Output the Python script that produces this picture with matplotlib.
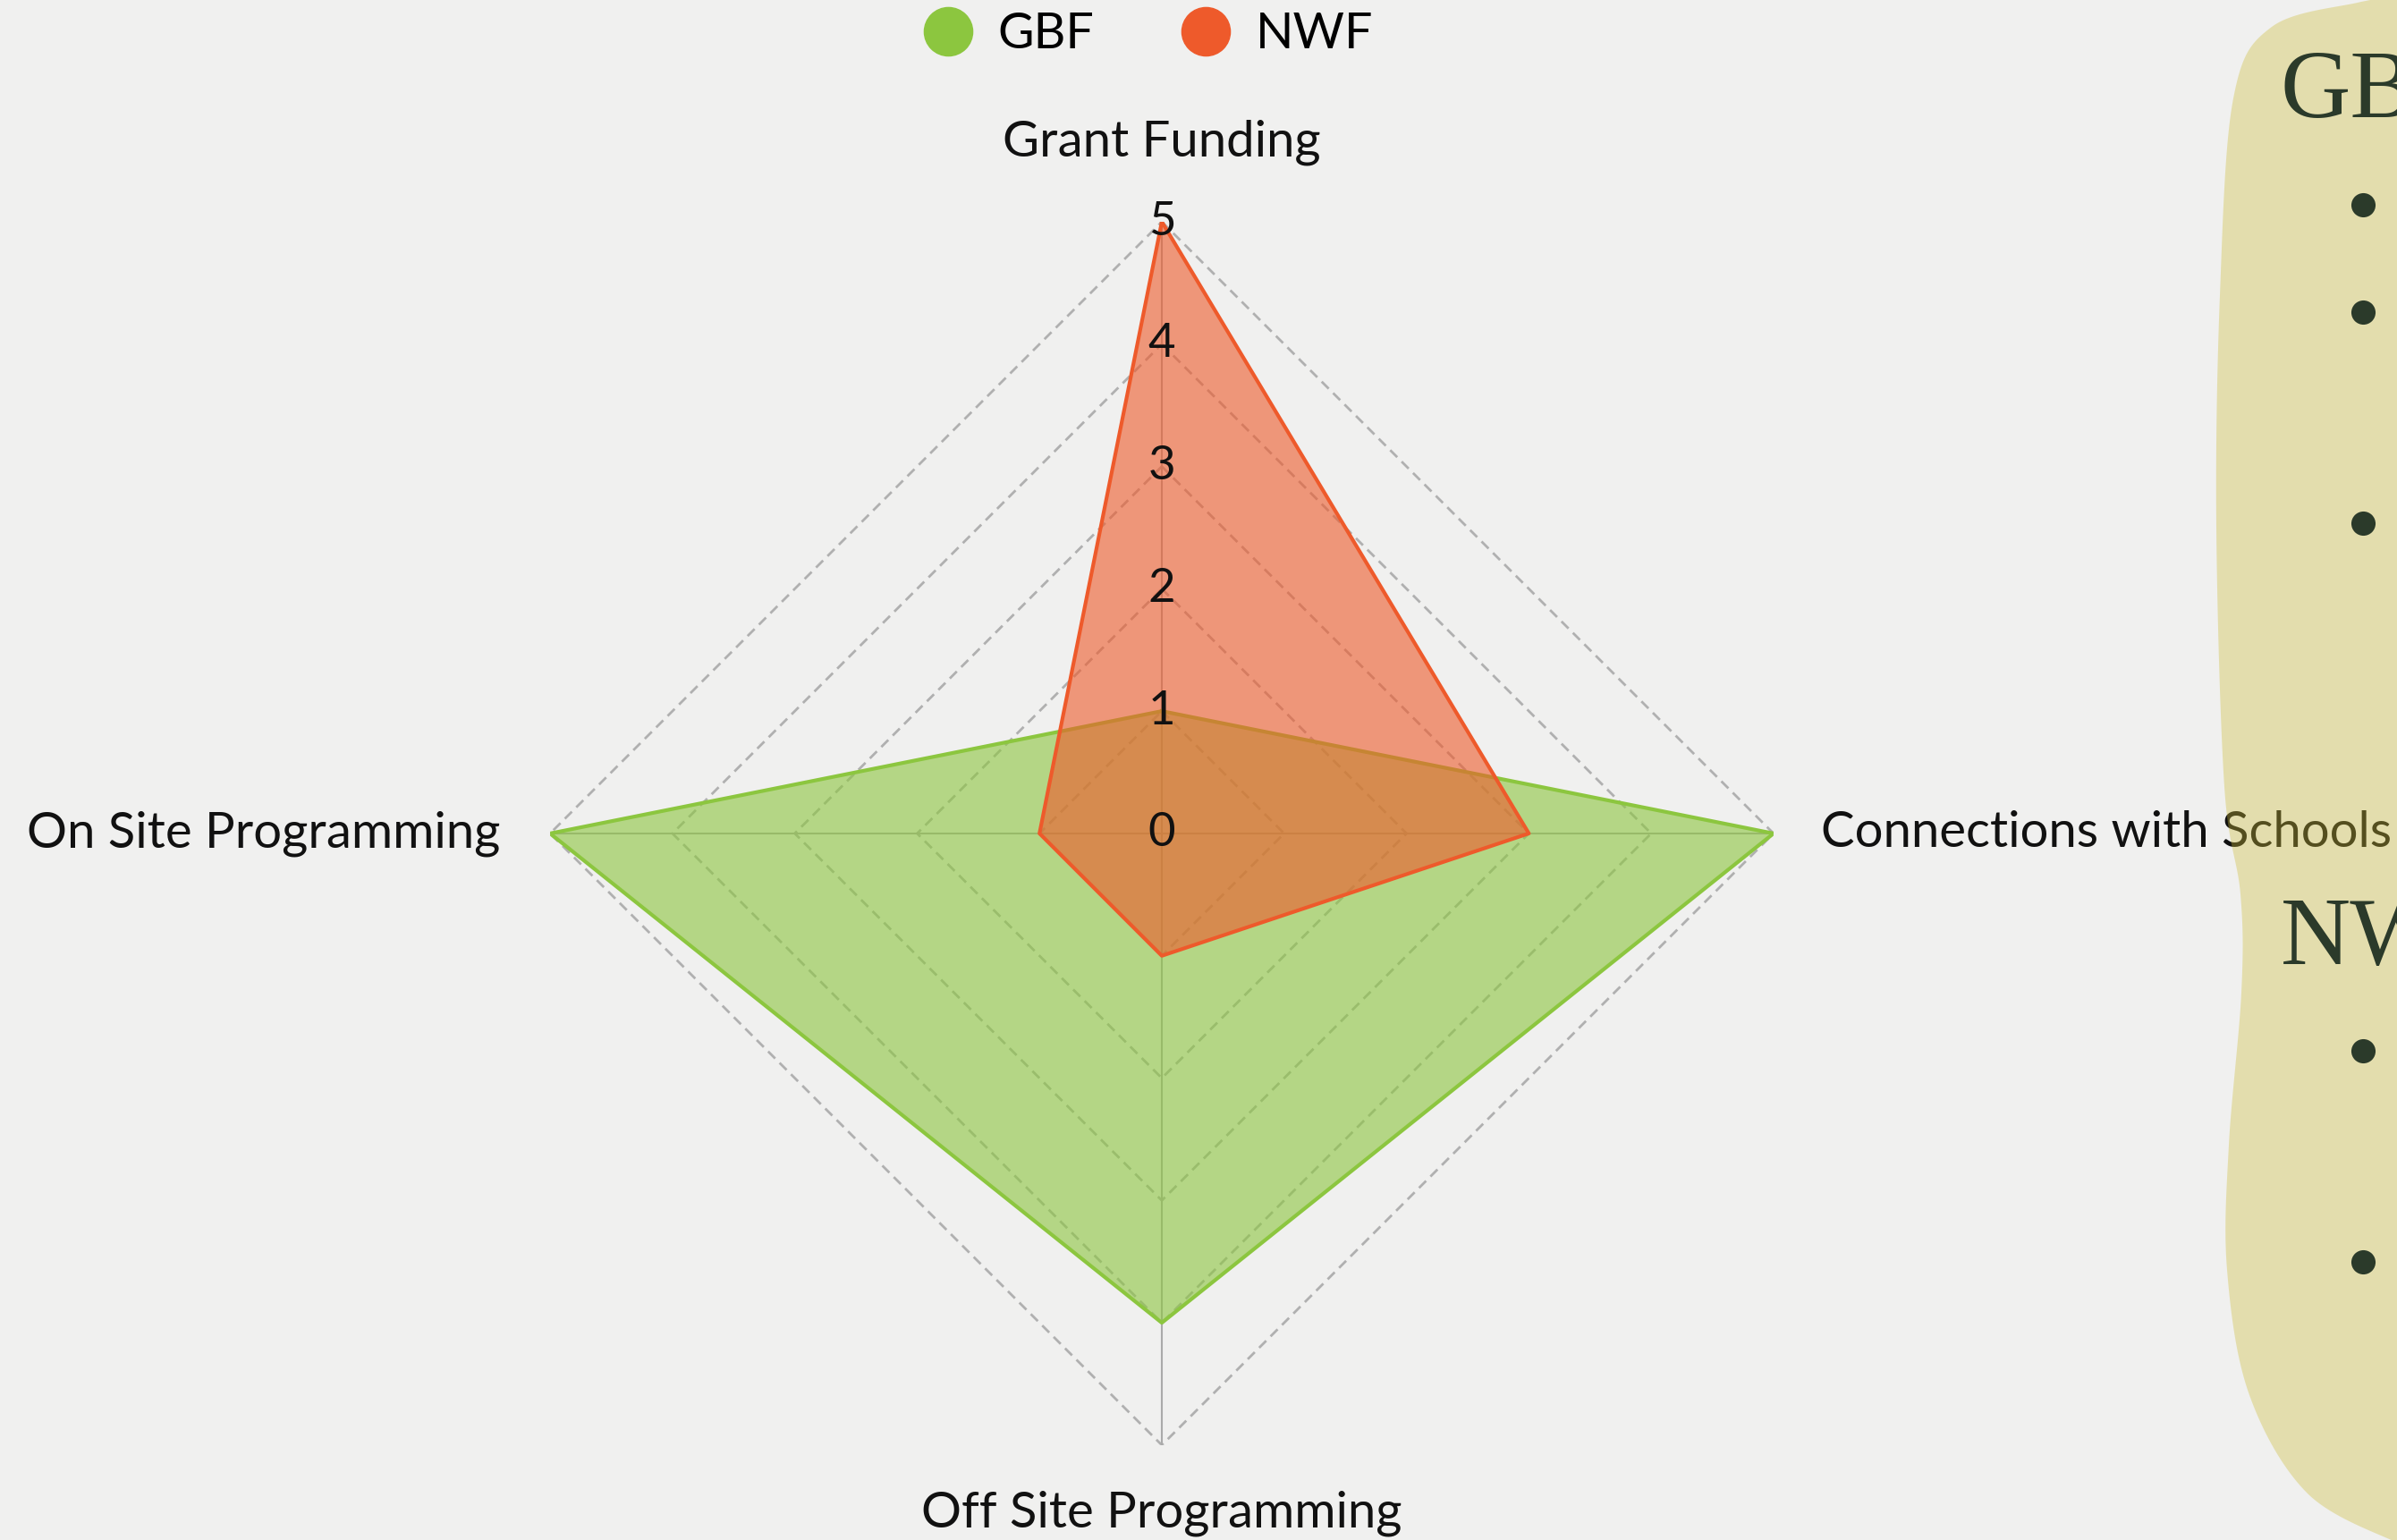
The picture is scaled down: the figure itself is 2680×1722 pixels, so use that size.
import numpy as np
import matplotlib
matplotlib.use("Agg")
import matplotlib.pyplot as plt
from matplotlib.lines import Line2D
from matplotlib.patches import Polygon

plt.rcParams['font.family'] = ['Lato', 'DejaVu Sans']

# data
categories = ["Grant Funding", "Connections with Schools", "Off Site Programming", "On Site Programming"]
gbf = [1, 5, 4, 5]
nwf = [5, 3, 1, 1]
rings = [1, 2, 3, 4, 5]
tick_labels = ["0", "1", "2", "3", "4", "5"]

GREEN = "#8cc63f"
ORANGE = "#ee5a2b"
GRID = "#b0b0b0"

W, H = 2680, 1722
fig = plt.figure(figsize=(W / 100, H / 100), dpi=100, facecolor="#f0f0ef")

ax = fig.add_axes([0.2295, 0.0616, 0.5104, 0.7944], projection="polar")
ax.set_theta_offset(np.pi / 2)
ax.set_theta_direction(-1)
ax.set_ylim(0, 5)
ax.grid(False)
ax.spines["polar"].set_visible(False)
ax.set_xticks([])
ax.set_yticks([])
ax.patch.set_alpha(0)

angles = np.arange(len(categories)) * 2 * np.pi / len(categories)
closed = np.append(angles, angles[0])

# polygon grid
for r in rings:
    ax.plot(closed, [r] * len(closed), color=GRID, lw=2, ls=(0, (4, 2.5)), zorder=1)
for a in angles:
    ax.plot([a, a], [0, 5], color="#aaaaaa", lw=1.5, zorder=1)

# series
ax.fill(closed, gbf + gbf[:1], color=GREEN, alpha=0.6, lw=0, zorder=2)
ax.plot(closed, gbf + gbf[:1], color=GREEN, lw=3, zorder=3)
ax.fill(closed, nwf + nwf[:1], color=ORANGE, alpha=0.6, lw=0, zorder=4)
ax.plot(closed, nwf + nwf[:1], color=ORANGE, lw=3, zorder=5)

# radial tick labels along the top axis
for i, t in enumerate(tick_labels):
    ax.text(0, i, t, ha="center", va="center", fontsize=38, color="#111111", zorder=6)

# category labels
label_pos = [(5.65, "center"), (5.39, "left"), (5.56, "center"), (5.41, "right")]
for a, cat, (r, ha) in zip(angles, categories, label_pos):
    ax.text(a, r, cat, ha=ha, va="center", fontsize=40.5, color="#111111", clip_on=False)

# legend
handles = [Line2D([], [], marker="o", ls="", ms=39, mfc=GREEN, mec=GREEN, label="GBF"),
           Line2D([], [], marker="o", ls="", ms=39, mfc=ORANGE, mec=ORANGE, label="NWF")]
fig.legend(handles=handles, loc="center", bbox_to_anchor=(1282 / W, 1 - 39 / H), ncol=2,
           frameon=False, fontsize=40, handlelength=1.1, handletextpad=0.45, columnspacing=1.7)

# side note panel
ov = fig.add_axes([0, 0, 1, 1])
ov.set_zorder(5)
ov.set_xlim(0, W)
ov.set_ylim(H, 0)
ov.axis("off")
ov.patch.set_alpha(0)

ctrl = np.array([[2700, -10], [2640, 2], [2540, 30], [2497, 110], [2482, 330], [2478, 590],
                 [2487, 880], [2505, 1000], [2506, 1110], [2492, 1280], [2490, 1420],
                 [2515, 1560], [2580, 1670], [2680, 1725], [2700, 1730]])
pts = []
for i in range(1, len(ctrl) - 2):
    p0, p1, p2, p3 = ctrl[i - 1], ctrl[i], ctrl[i + 1], ctrl[i + 2]
    for t in np.linspace(0, 1, 20, endpoint=False):
        pts.append(0.5 * (2 * p1 + (-p0 + p2) * t + (2 * p0 - 5 * p1 + 4 * p2 - p3) * t ** 2
                          + (-p0 + 3 * p1 - 3 * p2 + p3) * t ** 3))
pts.append(ctrl[-2])
pts += [[2700, 1730], [2700, -10]]
ov.add_patch(Polygon(pts, closed=True, facecolor="#cdbd3a", alpha=0.36, lw=0))

DARK = "#2b3a2a"
ov.text(2550, 105, "GBF", fontsize=78, family="Liberation Serif", color=DARK, va="center", ha="left")
ov.text(2550, 1052, "NWF", fontsize=78, family="Liberation Serif", color=DARK, va="center", ha="left")
bullets_y = [229, 349, 585, 1175, 1411]
ov.scatter([2642] * len(bullets_y), bullets_y, s=380, color=DARK, lw=0)

fig.savefig("out.png", dpi=100, facecolor=fig.get_facecolor())
